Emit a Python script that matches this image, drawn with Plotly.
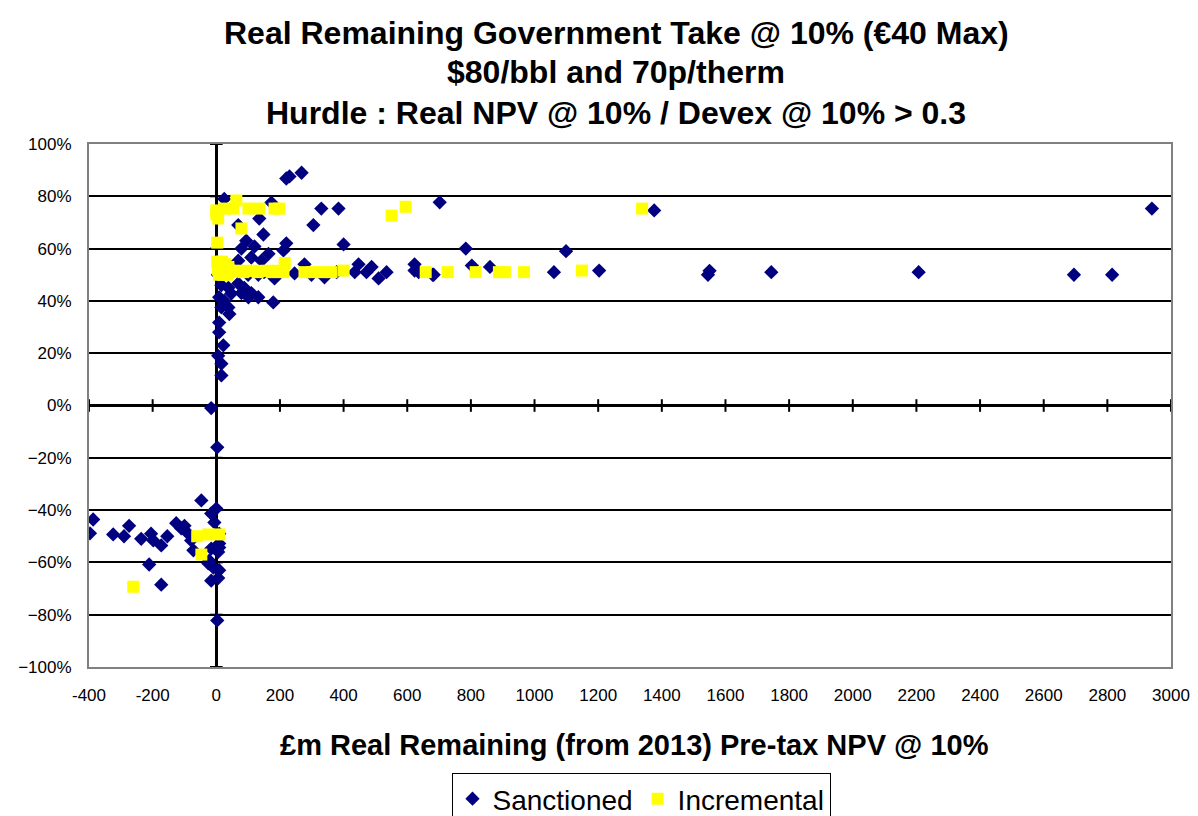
import plotly.graph_objects as go

# ---- data ----
sanctioned_x = [2940, 2815, 2695, 2207, 1744, 1550, 1545, 1376, 1203, 1099, 1061, 860, 803, 784, 702,
                683, 680, 636, 623, 623, 535, 510, 488, 472, 447, 435, 400, 384, 378, 340, 330, 305,
                299, 277, 268, 246, 230, 220, 220, 211, 183, 179, 173, 164, 148, 142, 135, 132, 132,
                120, 110, 110, 101, 94, 88, 79, 79, 69, 69, 69, 47, 41, 38, 38, 25, 25, 22, 22, 16,
                16, 16, 16, 9, 9, 9, 6, -16, 3,
                5, 30, 50, 100, 150, 200,
                -47, 0, -16, -6, -387, -397, -324, -290, -274, -236, -205, -198, -173, -154, -126,
                -110, -100, -88, -79, -72, -16, 9, 9, 9, 6, -22, -25, -9, 9, -211, -173, -16, 6, 3]
sanctioned_y = [0.753, 0.50, 0.50, 0.51, 0.51, 0.515, 0.50, 0.746, 0.516, 0.59, 0.51, 0.53, 0.535, 0.60, 0.777,
                0.50, 0.50, 0.51, 0.54, 0.516, 0.51, 0.486, 0.53, 0.51, 0.54, 0.51, 0.616, 0.753, 0.51, 0.49, 0.753, 0.69,
                0.50, 0.54, 0.89, 0.505, 0.876, 0.868, 0.62, 0.593, 0.486, 0.394, 0.776, 0.58, 0.654, 0.554, 0.715, 0.50, 0.414,
                0.608, 0.566, 0.43, 0.414, 0.63, 0.45, 0.60, 0.43, 0.69, 0.554, 0.467, 0.428, 0.35, 0.45, 0.375, 0.79, 0.40, 0.52, 0.23, 0.46,
                0.375, 0.16, 0.115, 0.414, 0.317, 0.28, 0.19, -0.01, -0.16,
                0.50, 0.51, 0.52, 0.50, 0.51, 0.51,
                -0.363, -0.394, -0.413, -0.447, -0.436, -0.489, -0.493, -0.50, -0.46, -0.51, -0.49, -0.516, -0.535, -0.50, -0.45,
                -0.47, -0.46, -0.49, -0.516, -0.554, -0.547, -0.49, -0.528, -0.543, -0.56, -0.593, -0.604, -0.62, -0.63, -0.608, -0.685, -0.67, -0.66, -0.822]

incremental_x = [0, 6, 0, 25, 63, 53, 101, 135, 183, 198, 79, 3, 551, 595, 1338,
                 3, 5, 8, 10, 12, 15, 18, 20, 25, 28, 32, 35, 38, 41,
                 57, 70, 85, 100, 115, 130, 145, 160, 175, 190, 205, 211, 215, 277, 300, 330, 362, 400,
                 658, 727, 815, 888, 907, 967, 1149,
                 -60, -25, 9, -47, -261]
incremental_y = [0.746, 0.715, 0.73, 0.753, 0.784, 0.753, 0.753, 0.753, 0.753, 0.753, 0.677, 0.623, 0.726, 0.76, 0.753,
                 0.55, 0.52, 0.50, 0.54, 0.51, 0.53, 0.55, 0.50, 0.52, 0.54, 0.51, 0.50, 0.53, 0.51,
                 0.515, 0.515, 0.51, 0.515, 0.515, 0.51, 0.515, 0.515, 0.51, 0.515, 0.515, 0.51, 0.545, 0.51, 0.51, 0.51, 0.51, 0.516,
                 0.51, 0.51, 0.51, 0.51, 0.51, 0.51, 0.516,
                 -0.50, -0.493, -0.493, -0.57, -0.693]

x_ticks = list(range(-400, 3001, 200))
y_ticks = [-1.0, -0.8, -0.6, -0.4, -0.2, 0.0, 0.2, 0.4, 0.6, 0.8, 1.0]

title_lines = ["Real Remaining Government Take @ 10% (€40 Max)",
               "$80/bbl and 70p/therm",
               "Hurdle : Real NPV @ 10% / Devex @ 10% > 0.3"]
x_title = "£m Real Remaining (from 2013) Pre-tax NPV @ 10%"

FONT = "Arial, Liberation Sans, sans-serif"

# page body has an 8px margin, so the figure is drawn at (8, 8) in the window
W, H = 1190, 808
OFF = 8
PL, PT, PR, PB = 89 - OFF, 144 - OFF, 1171 - OFF, 667 - OFF  # plot area in figure pixels
PW, PH = PR - PL, PB - PT


def px_x(wx):
    return (wx - OFF - PL) / PW


def px_y(wy):
    return (PB - (wy - OFF)) / PH


fig = go.Figure()
# small tick marks where the axes cross at zero (Excel style)
fig.add_trace(go.Scatter(x=x_ticks, y=[0] * len(x_ticks), mode="markers", showlegend=False,
                         hoverinfo="skip",
                         marker=dict(symbol="line-ns", size=9, color="black",
                                     line=dict(width=2, color="black"))))
fig.add_trace(go.Scatter(x=[0] * len(y_ticks), y=y_ticks, mode="markers", showlegend=False,
                         hoverinfo="skip",
                         marker=dict(symbol="line-ew", size=9, color="black",
                                     line=dict(width=2, color="black"))))
fig.add_trace(go.Scatter(x=sanctioned_x, y=sanctioned_y, mode="markers", name="Sanctioned",
                         marker=dict(symbol="diamond", size=11, color="#000080",
                                     line=dict(width=0))))
fig.add_trace(go.Scatter(x=incremental_x, y=incremental_y, mode="markers", name="Incremental",
                         marker=dict(symbol="square", size=12, color="#FFFF00",
                                     line=dict(width=0))))

fig.update_layout(
    width=W, height=H,
    margin=dict(l=PL, r=W - PR, t=PT, b=H - PB, autoexpand=False),
    paper_bgcolor="white", plot_bgcolor="white",
    font=dict(family=FONT, color="black"),
    showlegend=True,
    legend=dict(orientation="h", x=px_x(641), xref="paper", xanchor="center",
                y=(H - (773 - OFF)) / H, yref="container", yanchor="top",
                bordercolor="black", borderwidth=1, bgcolor="white",
                font=dict(size=28, family=FONT, color="black"),
                itemsizing="trace"),
)

fig.update_xaxes(range=[-400, 3000], autorange=False, tickvals=x_ticks,
                 ticktext=[str(v) for v in x_ticks],
                 showgrid=False, zeroline=True, zerolinecolor="black", zerolinewidth=3,
                 showline=True, linecolor="#808080", linewidth=2, mirror=True,
                 ticks="", ticklabelstandoff=12, automargin=False,
                 tickfont=dict(size=17, family=FONT, color="black"))
fig.update_yaxes(range=[-1, 1], autorange=False, tickvals=y_ticks, tickformat=".0%",
                 showgrid=True, gridcolor="black", gridwidth=1.5,
                 zeroline=True, zerolinecolor="black", zerolinewidth=3,
                 showline=True, linecolor="#808080", linewidth=2, mirror=True,
                 ticks="", ticklabelstandoff=12, automargin=False,
                 tickfont=dict(size=17, family=FONT, color="black"))

title_wy = [33, 72, 113]
for txt, wy in zip(title_lines, title_wy):
    fig.add_annotation(text="<b>" + txt + "</b>", x=px_x(616), y=px_y(wy), xref="paper", yref="paper",
                       xanchor="center", yanchor="middle", showarrow=False,
                       font=dict(size=32, family=FONT, color="black"))

fig.add_annotation(text="<b>" + x_title + "</b>", x=px_x(634), y=px_y(745), xref="paper", yref="paper",
                   xanchor="center", yanchor="middle", showarrow=False,
                   font=dict(size=29, family=FONT, color="black"))

fig.write_html("out.html")
